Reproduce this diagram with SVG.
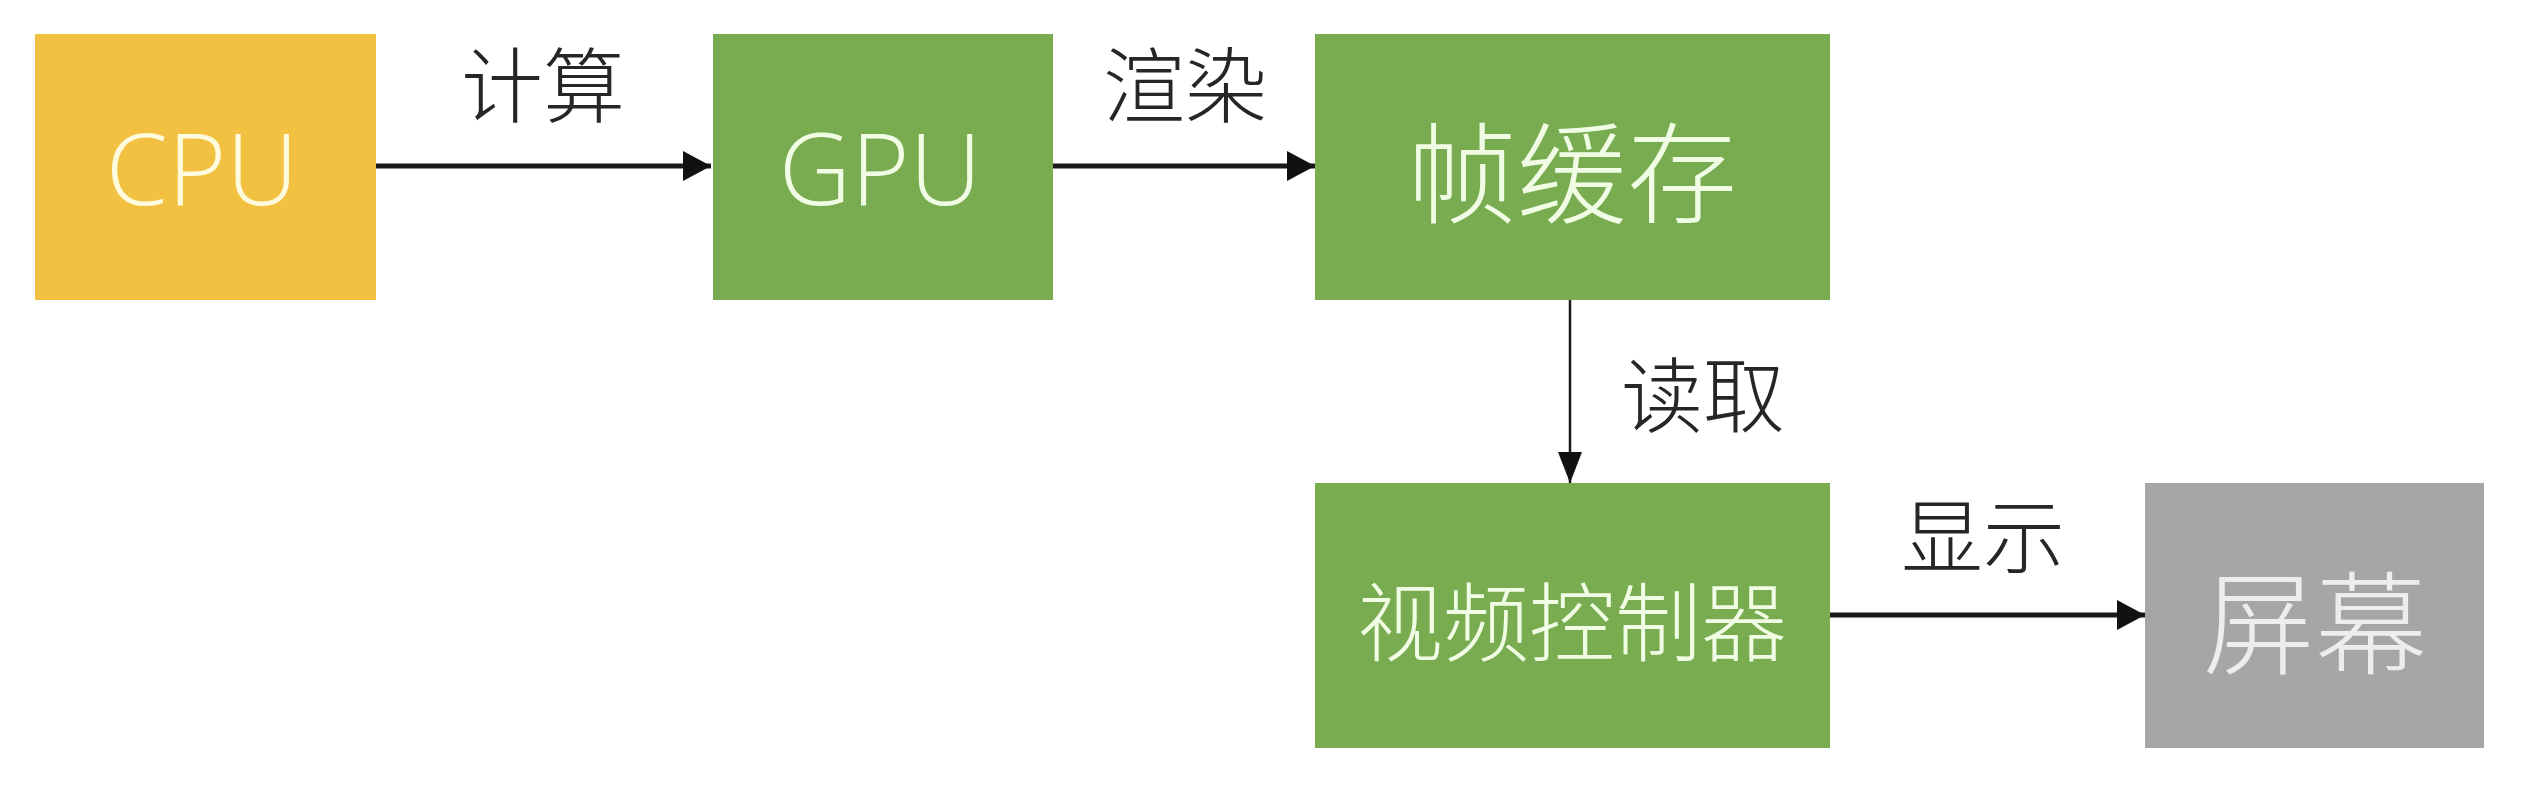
<svg xmlns="http://www.w3.org/2000/svg" width="2532" height="798" viewBox="0 0 2532 798">
<style>
.box-text{font-family:"Open Sans","Noto Sans CJK SC",sans-serif;font-weight:300;text-anchor:middle;dominant-baseline:central}
.cjk{font-family:"Noto Sans CJK SC",sans-serif;font-weight:300;text-anchor:middle;dominant-baseline:central}
.label{font-family:"Noto Sans CJK SC",sans-serif;font-weight:300;text-anchor:middle;dominant-baseline:central;fill:#262626;font-size:82px}
.thick{stroke:#1a1a1a;stroke-width:5;fill:none}
.thin{stroke:#1a1a1a;stroke-width:2.5;fill:none}
</style>
<defs>
<marker id="ah" markerUnits="userSpaceOnUse" markerWidth="30" markerHeight="30" refX="28" refY="15" orient="auto">
<path d="M0,0 L28,15 L0,30 Z" fill="#111"/>
</marker>
<marker id="ahv" markerUnits="userSpaceOnUse" markerWidth="32" markerHeight="26" refX="31" refY="12" orient="auto">
<path d="M0,0 L31,12 L0,24 Z" fill="#111"/>
</marker>
</defs>
<rect width="2532" height="798" fill="#FFFFFF"/>
<g id="connectors">
<line class="thick" x1="376" y1="166" x2="711" y2="166" marker-end="url(#ah)"/>
<line class="thick" x1="1053" y1="166" x2="1315" y2="166" marker-end="url(#ah)"/>
<line class="thin" x1="1570" y1="300" x2="1570" y2="483" marker-end="url(#ahv)"/>
<line class="thick" x1="1830" y1="615" x2="2145" y2="615" marker-end="url(#ah)"/>
<text class="label" x="543" y="80">计算</text>
<text class="label" x="1185" y="80">渲染</text>
<text class="label" x="1703" y="390">读取</text>
<text class="label" x="1983" y="531">显示</text>
</g>
<g id="cpu">
<rect x="35" y="34" width="341" height="266" fill="#F2C141"/>
<text class="box-text" x="202" y="166" font-size="100" fill="#FFFBDF">CPU</text>
</g>
<g id="gpu">
<rect x="713" y="34" width="340" height="266" fill="#79AC50"/>
<text class="box-text" x="880" y="166" font-size="100" fill="#F0FDE4">GPU</text>
</g>
<g id="framebuffer">
<rect x="1315" y="34" width="515" height="266" fill="#79AC50"/>
<text class="cjk" x="1572" y="167" font-size="110" fill="#F0FDE4">帧缓存</text>
</g>
<g id="videocontroller">
<rect x="1315" y="483" width="515" height="265" fill="#79AC50"/>
<text class="cjk" x="1572" y="617" font-size="86" fill="#F0FDE4">视频控制器</text>
</g>
<g id="screen">
<rect x="2145" y="483" width="339" height="265" fill="#A6A6A6"/>
<text class="cjk" x="2315" y="617" font-size="112" fill="#EDEDED">屏幕</text>
</g>
</svg>
